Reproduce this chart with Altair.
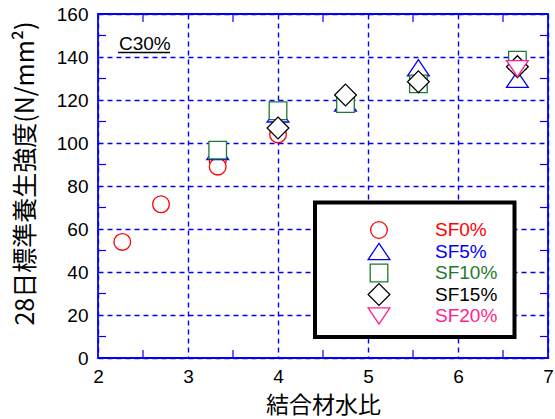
import altair as alt
import pandas as pd

# ---- data -------------------------------------------------------------
series_names = ["SF0%", "SF5%", "SF10%", "SF15%", "SF20%"]
series_colors = ["#ff0000", "#0000ff", "#1e7a32", "#000000", "#ff1f8f"]

sf0_x = [2.27, 2.70, 3.33, 3.33, 4.00]
sf0_y = [54.0, 71.5, 91.5, 89.0, 104.0]

sf5_x = [3.33, 4.00, 4.75, 5.56, 6.66]
sf5_y = [96.0, 113.5, 118.6, 135.0, 129.6]

sf10_x = [3.33, 4.00, 4.75, 5.56, 6.66]
sf10_y = [96.7, 115.0, 118.3, 127.5, 138.5]

sf15_x = [4.00, 4.75, 5.56, 6.66]
sf15_y = [107.0, 122.3, 128.5, 135.5]

sf20_x = [6.66]
sf20_y = [134.6]

x_ticks = [2, 3, 4, 5, 6, 7]
y_ticks = [0, 20, 40, 60, 80, 100, 120, 140, 160]
x_minor = [2.5, 3.5, 4.5, 5.5, 6.5]
y_minor = [10, 30, 50, 70, 90, 110, 130, 150]

# ---- symbol outlines (unit box, scaled by sqrt(size)/2) ----------------
shape_paths = [
    "M0.76,0A0.76,0.76,0,1,1,-0.76,0A0.76,0.76,0,1,1,0.76,0Z",  # circle
    "M0,-0.73L0.99,0.73L-0.99,0.73Z",                           # triangle up
    "M-0.8,-0.8L0.8,-0.8L0.8,0.8L-0.8,0.8Z",                    # square
    "M0,-0.99L0.99,0L0,0.99L-0.99,0Z",                          # diamond
    "M0,0.73L0.99,-0.73L-0.99,-0.73Z",                          # triangle down
]
SYMBOL_SIZE = 484

rows = []
for name, xs, ys in zip(series_names,
                        [sf0_x, sf5_x, sf10_x, sf15_x, sf20_x],
                        [sf0_y, sf5_y, sf10_y, sf15_y, sf20_y]):
    for xv, yv in zip(xs, ys):
        rows.append({"series": name, "ratio": xv, "strength": yv})
points_df = pd.DataFrame(rows)

# plot area sized so every grid line falls on a whole pixel
W, H = 450, 344
GRID_BLUE = "#0000ff"
LATIN = "Liberation Sans"
CJK = "Noto Sans CJK JP"

x_scale = alt.Scale(domain=[2, 7], nice=False, zero=False)
y_scale = alt.Scale(domain=[0, 160], nice=False, zero=False)

x_axis = alt.Axis(
    values=x_ticks, format="d", grid=True, gridColor=GRID_BLUE,
    gridDash=[5, 4], gridWidth=1.4, gridOpacity=1, ticks=False, domain=False,
    labelFont=LATIN, labelFontSize=19, labelColor="black", labelPadding=9,
    labelFlush=False, title="結合材水比", titleFont=CJK, titleFontSize=23,
    titleFontWeight="normal", titleColor="black", titleBaseline="middle",
    titleY=47,
)
y_axis = alt.Axis(
    values=y_ticks, format="d", grid=True, gridColor=GRID_BLUE,
    gridDash=[5, 4], gridWidth=1.4, gridOpacity=1, ticks=False, domain=False,
    labelFont=LATIN, labelFontSize=19, labelColor="black", labelPadding=10,
    labelFlush=False, title="28日標準養生強度(N/mm²)", titleFont=CJK,
    titleFontSize=25, titleFontWeight="normal", titleColor="black",
    titleAngle=270, titleAlign="center", titleBaseline="middle",
    titleX=-73, titleY=159,
)


def X(field):
    return alt.X(field, type="quantitative", scale=x_scale, axis=x_axis)


def Y(field):
    return alt.Y(field, type="quantitative", scale=y_scale, axis=y_axis)


# ---- inward minor ticks on all four sides ------------------------------
xm = pd.DataFrame({"ratio": x_minor})
ym = pd.DataFrame({"strength": y_minor})
tick_style = dict(color=GRID_BLUE, strokeWidth=1.2)

ticks_bottom = alt.Chart(xm).mark_rule(**tick_style).encode(
    x=X("ratio"), y=alt.value(H), y2=alt.value(H - 8))
ticks_top = alt.Chart(xm).mark_rule(**tick_style).encode(
    x=X("ratio"), y=alt.value(0), y2=alt.value(8))
ticks_left = alt.Chart(ym).mark_rule(**tick_style).encode(
    y=Y("strength"), x=alt.value(0), x2=alt.value(8))
ticks_right = alt.Chart(ym).mark_rule(**tick_style).encode(
    y=Y("strength"), x=alt.value(W), x2=alt.value(W - 8))

# ---- measured points ----------------------------------------------------
points = alt.Chart(points_df).mark_point(
    filled=True, fill="white", fillOpacity=1, opacity=1,
    strokeWidth=1.3, size=SYMBOL_SIZE,
).encode(
    x=X("ratio"),
    y=Y("strength"),
    stroke=alt.Stroke("series:N", scale=alt.Scale(domain=series_names, range=series_colors), legend=None),
    shape=alt.Shape("series:N", scale=alt.Scale(domain=series_names, range=shape_paths), legend=None),
)

# ---- "C30%" label with underline -----------------------------------------
label_df = pd.DataFrame({"t": ["C30%"]})
c30_text = alt.Chart(label_df).mark_text(
    font=LATIN, fontSize=19, color="black", align="left", baseline="alphabetic",
).encode(text="t:N", x=alt.value(21), y=alt.value(36))
c30_line = alt.Chart(label_df).mark_rule(color="black", strokeWidth=1.5).encode(
    x=alt.value(20), x2=alt.value(72), y=alt.value(38.5))

# ---- legend box -----------------------------------------------------------
legend_box = alt.Chart(label_df).mark_rect(
    fill="white", stroke="black", strokeWidth=4,
).encode(x=alt.value(217), x2=alt.value(416.5), y=alt.value(188.5), y2=alt.value(323))

legend_layers = []
row0, step = 216, 21.5
for i, (name, col, path) in enumerate(zip(series_names, series_colors, shape_paths)):
    ypix = row0 + i * step
    entry = pd.DataFrame({"t": [name]})
    legend_layers.append(
        alt.Chart(entry).mark_point(
            filled=True, fill="white", fillOpacity=1, opacity=1,
            strokeWidth=1.3, size=SYMBOL_SIZE,
        ).encode(x=alt.value(281), y=alt.value(ypix),
                 stroke=alt.value(col), shape=alt.value(path))
    )
    legend_layers.append(
        alt.Chart(entry).mark_text(
            font=LATIN, fontSize=19, color=col, align="left", baseline="middle",
        ).encode(text="t:N", x=alt.value(337), y=alt.value(ypix))
    )

chart = alt.layer(
    ticks_bottom, ticks_top, ticks_left, ticks_right,
    points, c30_text, c30_line, legend_box, *legend_layers,
).properties(
    width=W, height=H,
    autosize=alt.AutoSizeParams(type="none"),
    padding={"left": 98, "top": 14, "right": 7, "bottom": 61},
    background="white",
).configure_view(
    stroke=GRID_BLUE, strokeWidth=1.8,
).configure_axis(
    gridColor=GRID_BLUE,
)

chart.save("out.html", embed_options={"renderer": "svg", "actions": False})
